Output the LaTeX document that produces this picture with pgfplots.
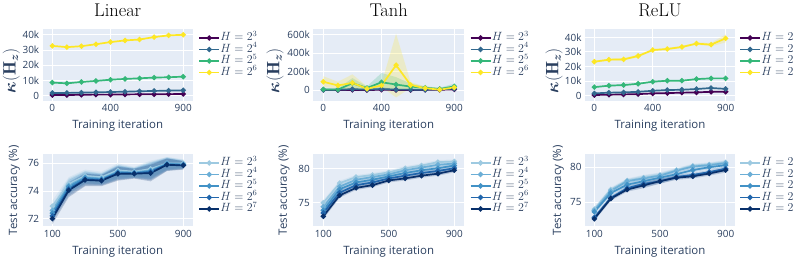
\documentclass[border=0pt]{standalone}
\usepackage{amsmath}
\usepackage{fontspec}
\setsansfont{Open Sans}
\usepackage{pgfplots}
\usepackage{pgfplotstable}
\pgfplotsset{compat=1.18}
\usepgfplotslibrary{fillbetween}

\definecolor{plotbg}{HTML}{E5ECF6}
\definecolor{plottext}{HTML}{2A3F5F}
\definecolor{vpur}{HTML}{440154}
\definecolor{vblu}{HTML}{31688E}
\definecolor{vgre}{HTML}{35B779}
\definecolor{vyel}{HTML}{FDE725}
\definecolor{bA}{HTML}{9ECAE1}
\definecolor{bB}{HTML}{6BAED6}
\definecolor{bC}{HTML}{4292C6}
\definecolor{bD}{HTML}{2166AC}
\definecolor{bE}{HTML}{08306B}

\pgfplotstableread{
x p b g y
0 0.4 1.8 8.6 32.7
100 0.4 1.8 8.1 31.9
200 0.6 2.0 9.0 32.5
300 0.7 2.2 9.7 33.8
400 0.7 2.4 10.5 35.2
500 0.8 2.6 11.0 36.3
600 0.9 2.9 11.4 36.9
700 0.9 3.1 11.9 38.5
800 1.0 3.3 12.1 39.6
900 1.1 3.5 12.5 40.0
}\linTop

\pgfplotstableread{
x p b bl bh g gl gh y yl yh
0 2 3 0 10 8 0 20 90 35 150
100 1 4 0 10 5 0 15 50 15 90
200 2 10 0 25 75 20 130 78 0 170
300 0 5 0 12 22 5 40 15 0 40
400 4 12 0 30 85 0 185 50 35 70
500 1 5 0 12 60 -5 140 270 -80 610
600 0 5 0 12 38 10 70 55 25 85
700 2 4 0 10 25 10 40 20 5 40
800 3 8 0 15 12 0 25 5 -5 20
900 8 15 5 30 40 15 70 28 10 50
}\tanhTop

\pgfplotstableread{
x p b g gl gh y yl yh
0 0.5 1.6 5.9 5.5 6.3 23.3 22.6 24.0
100 0.7 2.1 6.9 6.5 7.3 24.7 24.0 25.3
200 0.9 2.3 7.3 6.9 7.7 24.9 24.1 25.8
300 1.1 2.7 8.2 7.8 8.6 27.2 26.3 28.1
400 1.6 3.4 9.6 9.2 10.0 31.3 30.7 31.9
500 1.8 3.9 10.3 9.9 10.7 32.0 31.2 32.8
600 2.1 4.1 10.3 9.9 10.7 33.4 32.7 34.1
700 2.3 4.6 11.4 11.0 11.8 35.7 35.0 36.4
800 2.7 5.3 11.9 11.5 12.3 35.0 33.8 36.2
900 2.7 4.7 11.9 11.5 12.3 39.3 36.5 42.0
}\reluTop

\pgfplotstableread{
x a al ah b bl bh c cl ch d dl dh e el eh
100 72.9 72.5 73.3 72.6 72.2 73.0 72.4 72.0 72.8 72.2 71.8 72.6 72.0 71.6 72.4
200 74.5 74.0 75.0 74.4 73.9 74.9 74.3 73.8 74.8 74.15 73.65 74.65 74.05 73.55 74.55
300 75.1 74.65 75.55 75.0 74.55 75.45 74.95 74.5 75.4 74.85 74.4 75.3 74.8 74.35 75.25
400 75.0 74.6 75.4 74.9 74.5 75.3 74.85 74.45 75.25 74.8 74.4 75.2 74.75 74.35 75.15
500 75.5 75.0 76.0 75.4 74.9 75.9 75.35 74.85 75.85 75.3 74.8 75.8 75.25 74.75 75.75
600 75.4 75.05 75.75 75.35 75.0 75.7 75.3 74.95 75.65 75.28 74.93 75.63 75.25 74.9 75.6
700 75.6 75.0 76.2 75.5 74.9 76.1 75.45 74.85 76.05 75.38 74.78 75.98 75.3 74.7 75.9
800 76.0 75.55 76.45 76.0 75.55 76.45 75.95 75.5 76.4 75.92 75.47 76.37 75.9 75.45 76.35
900 76.0 75.7 76.3 75.95 75.65 76.25 75.9 75.6 76.2 75.88 75.58 76.18 75.85 75.55 76.15
}\linBot

\pgfplotstableread{
x a al ah b bl bh c cl ch d dl dh e el eh
100 75.0 74.6 75.4 74.4 74.0 74.8 73.9 73.5 74.3 73.5 73.1 73.9 73.0 72.6 73.4
200 77.9 77.55 78.25 77.4 77.05 77.75 77.0 76.65 77.35 76.5 76.15 76.85 76.1 75.75 76.45
300 78.8 78.5 79.1 78.4 78.1 78.7 78.0 77.7 78.3 77.6 77.3 77.9 77.2 76.9 77.5
400 79.1 78.8 79.4 78.8 78.5 79.1 78.4 78.1 78.7 78.0 77.7 78.3 77.6 77.3 77.9
500 79.5 79.2 79.8 79.2 78.9 79.5 78.9 78.6 79.2 78.6 78.3 78.9 78.3 78.0 78.6
600 80.1 79.8 80.4 79.8 79.5 80.1 79.4 79.1 79.7 79.0 78.7 79.3 78.6 78.3 78.9
700 80.5 80.2 80.8 80.2 79.9 80.5 79.8 79.5 80.1 79.4 79.1 79.7 79.0 78.7 79.3
800 81.0 80.7 81.3 80.6 80.3 80.9 80.1 79.8 80.4 79.7 79.4 80.0 79.3 79.0 79.6
900 81.1 80.8 81.4 80.8 80.5 81.1 80.5 80.2 80.8 80.1 79.8 80.4 79.8 79.5 80.1
}\tanhBot

\pgfplotstableread{
x a al ah b bl bh c cl ch d dl dh e el eh
100 74.0 73.7 74.3 73.8 73.5 74.1 73.6 73.3 73.9 72.8 72.5 73.1 72.6 72.3 72.9
200 76.8 76.5 77.1 76.6 76.3 76.9 76.3 76.0 76.6 75.6 75.3 75.9 75.5 75.2 75.8
300 78.1 77.8 78.4 78.0 77.7 78.3 77.5 77.2 77.8 77.0 76.7 77.3 76.8 76.5 77.1
400 78.5 78.1 78.9 78.4 78.0 78.8 78.0 77.6 78.4 77.6 77.2 78.0 77.4 77.0 77.8
500 78.9 78.55 79.25 78.8 78.45 79.15 78.5 78.15 78.85 78.0 77.65 78.35 78.0 77.65 78.35
600 79.6 79.3 79.9 79.5 79.2 79.8 79.0 78.7 79.3 78.6 78.3 78.9 78.5 78.2 78.8
700 80.2 79.9 80.5 80.1 79.8 80.4 79.6 79.3 79.9 78.9 78.6 79.2 78.7 78.4 79.0
800 80.4 80.1 80.7 80.3 80.0 80.6 80.0 79.7 80.3 79.3 79.0 79.6 79.1 78.8 79.4
900 80.7 80.35 81.05 80.6 80.25 80.95 80.3 79.95 80.65 79.8 79.45 80.15 79.6 79.25 79.95
}\reluBot

\pgfplotsset{
  plotly/.style={
    scale only axis, anchor=south west,
    axis background/.style={fill=plotbg},
    axis line style={draw=none},
    major tick length=0pt,
    grid=major, grid style={white, line width=0.9bp},
    tick label style={font=\sffamily\fontsize{10}{12}\selectfont, text=plottext},
    /pgf/number format/assume math mode=true,
    xlabel={Training iteration},
    xlabel style={font=\sffamily\fontsize{11.5}{13}\selectfont, text=plottext,
      at={(axis description cs:0.5,0)}, anchor=base, yshift=-28bp},
    every axis title shift=0pt,
    title style={font=\fontsize{18.5}{21}\selectfont, at={(axis description cs:0.5,1)}, anchor=base, yshift=12bp},
    legend style={draw=none, fill=none, at={(1,1)}, anchor=north west, xshift=5.5bp, yshift=-3bp,
      inner sep=0pt, font=\fontsize{11.5}{13}\selectfont, text=plottext,
      nodes={inner sep=0.4bp, text height=8bp, text depth=2.7bp}, row sep=0bp},
    legend cell align=left,
    legend image code/.code={\draw[mark repeat=2,mark phase=2,##1] plot coordinates {(0bp,0bp)(10bp,0bp)(20bp,0bp)};},
    every axis plot/.append style={line width=1.7bp, mark=*, mark size=1.7bp},
  },
  toprow/.style={plotly, width=150bp, height=72bp,
    xtick={0,400,900},
    ylabel={$\boldsymbol{\kappa}(\mathbf{H}_{\boldsymbol{z}})$},
    ylabel style={font=\fontsize{18}{20}\selectfont, text=plottext, anchor=base},
  },
  botrow/.style={plotly, width=150bp, height=72.5bp,
    xtick={100,500,900},
    ylabel={Test accuracy (\%)},
    ylabel style={font=\sffamily\fontsize{11.5}{13}\selectfont, text=plottext, anchor=base},
  },
}

\newcommand{\band}[4]{%
  \addplot[name path=#2, draw=none, mark=none, forget plot] table[x=x,y=#2]{#1};
  \addplot[name path=#3, draw=none, mark=none, forget plot] table[x=x,y=#3]{#1};
  \addplot[fill=#4, fill opacity=0.22, draw=none, mark=none, forget plot] fill between[of=#2 and #3];
}

\begin{document}
\begin{tikzpicture}

% ---------- top: Linear
\begin{axis}[toprow, at={(42.7bp,158bp)}, title={Linear},
  xmin=-66, xmax=965, ymin=-3.5, ymax=43.8,
  ytick={0,10,20,30,40}, yticklabels={0,10k,20k,30k,40k},
  ylabel style={at={(axis description cs:-0.181,0.42)}}]
\addplot[vpur] table[x=x,y=p]{\linTop};
\addplot[vblu] table[x=x,y=b]{\linTop};
\addplot[vgre] table[x=x,y=g]{\linTop};
\addplot[vyel] table[x=x,y=y]{\linTop};
\legend{$H=2^3$,$H=2^4$,$H=2^5$,$H=2^6$}
\end{axis}

% ---------- top: Tanh
\begin{axis}[toprow, at={(313.3bp,158bp)}, width=150.7bp, title={Tanh},
  xmin=-69, xmax=967, ymin=-118, ymax=661,
  ytick={0,200,400,600}, yticklabels={0,200k,400k,600k},
  ylabel style={at={(axis description cs:-0.225,0.42)}}]
\band{\tanhTop}{bl}{bh}{vblu}
\band{\tanhTop}{gl}{gh}{vgre}
\band{\tanhTop}{yl}{yh}{vyel}
\addplot[vpur] table[x=x,y=p]{\tanhTop};
\addplot[vblu] table[x=x,y=b]{\tanhTop};
\addplot[vgre] table[x=x,y=g]{\tanhTop};
\addplot[vyel] table[x=x,y=y]{\tanhTop};
\legend{$H=2^3$,$H=2^4$,$H=2^5$,$H=2^6$}
\end{axis}

% ---------- top: ReLU
\begin{axis}[toprow, at={(585bp,158bp)}, title={ReLU},
  xmin=-64, xmax=964, ymin=-3.6, ymax=45.7,
  ytick={0,10,20,30,40}, yticklabels={0,10k,20k,30k,40k},
  ylabel style={at={(axis description cs:-0.178,0.42)}},
  legend style={xshift=-1.5bp}]
\band{\reluTop}{gl}{gh}{vgre}
\band{\reluTop}{yl}{yh}{vyel}
\addplot[vpur] table[x=x,y=p]{\reluTop};
\addplot[vblu] table[x=x,y=b]{\reluTop};
\addplot[vgre] table[x=x,y=g]{\reluTop};
\addplot[vyel] table[x=x,y=y]{\reluTop};
\legend{$H=2^3$,$H=2^4$,$H=2^5$,$H=2^6$}
\end{axis}

% ---------- bottom: Linear
\begin{axis}[botrow, at={(42.7bp,32.5bp)},
  xmin=41, xmax=957, ymin=71.43, ymax=76.68, ytick={72,74,76},
  ylabel style={at={(axis description cs:-0.171,0.5)}}]
\band{\linBot}{al}{ah}{bA}
\band{\linBot}{bl}{bh}{bB}
\band{\linBot}{cl}{ch}{bC}
\band{\linBot}{dl}{dh}{bD}
\band{\linBot}{el}{eh}{bE}
\addplot[bA] table[x=x,y=a]{\linBot};
\addplot[bB] table[x=x,y=b]{\linBot};
\addplot[bC] table[x=x,y=c]{\linBot};
\addplot[bD] table[x=x,y=d]{\linBot};
\addplot[bE] table[x=x,y=e]{\linBot};
\legend{$H=2^3$,$H=2^4$,$H=2^5$,$H=2^6$,$H=2^7$}
\end{axis}

% ---------- bottom: Tanh
\begin{axis}[botrow, at={(313.3bp,32.5bp)}, width=150.7bp,
  xmin=39, xmax=959, ymin=71.5, ymax=82.2, ytick={75,80},
  ylabel style={at={(axis description cs:-0.175,0.5)}}]
\band{\tanhBot}{al}{ah}{bA}
\band{\tanhBot}{bl}{bh}{bB}
\band{\tanhBot}{cl}{ch}{bC}
\band{\tanhBot}{dl}{dh}{bD}
\band{\tanhBot}{el}{eh}{bE}
\addplot[bA] table[x=x,y=a]{\tanhBot};
\addplot[bB] table[x=x,y=b]{\tanhBot};
\addplot[bC] table[x=x,y=c]{\tanhBot};
\addplot[bD] table[x=x,y=d]{\tanhBot};
\addplot[bE] table[x=x,y=e]{\tanhBot};
\legend{$H=2^3$,$H=2^4$,$H=2^5$,$H=2^6$,$H=2^7$}
\end{axis}

% ---------- bottom: ReLU
\begin{axis}[botrow, at={(585bp,32.5bp)},
  xmin=43, xmax=957, ymin=71.5, ymax=81.9, ytick={75,80},
  ylabel style={at={(axis description cs:-0.16,0.5)}},
  legend style={xshift=-1.5bp}]
\band{\reluBot}{al}{ah}{bA}
\band{\reluBot}{bl}{bh}{bB}
\band{\reluBot}{cl}{ch}{bC}
\band{\reluBot}{dl}{dh}{bD}
\band{\reluBot}{el}{eh}{bE}
\addplot[bA] table[x=x,y=a]{\reluBot};
\addplot[bB] table[x=x,y=b]{\reluBot};
\addplot[bC] table[x=x,y=c]{\reluBot};
\addplot[bD] table[x=x,y=d]{\reluBot};
\addplot[bE] table[x=x,y=e]{\reluBot};
\legend{$H=2^3$,$H=2^4$,$H=2^5$,$H=2^6$,$H=2^7$}
\end{axis}

\pgfresetboundingbox
\path[use as bounding box] (0,0) rectangle (793bp,259bp);
\end{tikzpicture}
\end{document}
